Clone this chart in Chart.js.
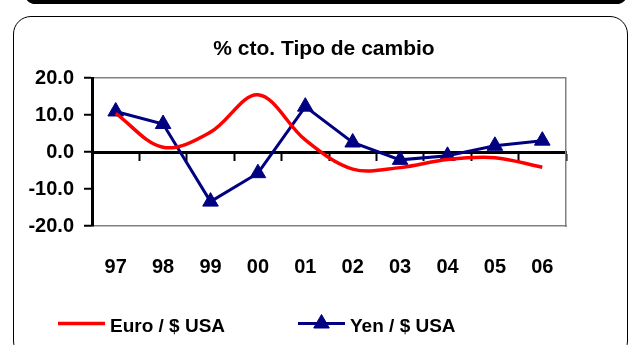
<!DOCTYPE html>
<html>
<head>
<meta charset="utf-8">
<script src="https://cdn.jsdelivr.net/npm/chart.js@4/dist/chart.umd.min.js"></script>
<style>
  html, body { margin: 0; padding: 0; background: #fff; }
  #wrap { position: relative; width: 632px; height: 345px; overflow: hidden; }
  /* borde del gráfico superior (solo se ve el final) */
  #topbar { position: absolute; left: 24px; top: -19px; width: 604px; height: 23px;
            background: #000; border-radius: 14px; }
  /* marco redondeado */
  #frame { position: absolute; left: 13px; top: 16px; width: 615px; height: 343px;
           box-sizing: border-box; border: 1.5px solid #000; border-radius: 18px; }
  #chart { position: absolute; left: 0; top: 0; }
</style>
</head>
<body>
<div id="wrap">
  <div id="topbar"></div>
  <div id="frame"></div>
  <canvas id="chart" width="632" height="345"></canvas>
</div>
<script>
// años (eje x)
let years = ['97', '98', '99', '00', '01', '02', '03', '04', '05', '06'];
// % cto. Euro / $ USA
let euro = [10.5, 1.3, 5.4, 15.5, 3.3, -4.6, -4.2, -2.0, -1.5, -4.1];
// % cto. Yen / $ USA
let yen = [11.0, 7.6, -13.4, -5.7, 12.3, 2.6, -2.1, -1.0, 1.7, 3.1];
// eje y
let y_min = -20;
let y_max = 20;
let y_step = 10;

let series_names = ['Euro / $ USA', 'Yen / $ USA'];
let title_text = '% cto. Tipo de cambio';

let font_family = '"Liberation Sans", Arial, sans-serif';
let gray = '#808080';

// leyenda dibujada abajo: línea + marcador como en Excel
const bottomLegend = {
    id: 'bottomLegend',
    afterDraw(chart) {
        let c = chart.ctx;
        let starts = [58, 298]; // inicio de cada muestra
        let ly = 323.5;
        c.save();
        c.font = 'bold 19px ' + font_family;
        c.textBaseline = 'alphabetic';
        chart.data.datasets.forEach(function (ds, i) {
            let x0 = starts[i];
            // línea de muestra
            c.strokeStyle = ds.borderColor;
            c.lineWidth = ds.borderWidth;
            c.beginPath();
            c.moveTo(x0, ly);
            c.lineTo(x0 + 47, ly);
            c.stroke();
            // marcador triangular
            if (ds.pointRadius > 0) {
                let r = ds.pointRadius;
                let cx = x0 + 23.5;
                c.fillStyle = ds.pointBackgroundColor;
                c.strokeStyle = ds.pointBorderColor;
                c.lineWidth = 1;
                c.beginPath();
                c.moveTo(cx, ly - r);
                c.lineTo(cx + r * Math.sin(2 * Math.PI / 3), ly + r / 2);
                c.lineTo(cx - r * Math.sin(2 * Math.PI / 3), ly + r / 2);
                c.closePath();
                c.fill();
                c.stroke();
            }
            c.fillStyle = '#000';
            c.fillText(ds.label, x0 + 52, 332);
        });
        c.restore();
    }
};

let config = {
    type: 'line',
    data: {
        labels: years,
        datasets: [{
            label: series_names[0],
            data: euro,
            borderColor: '#FF0000',
            borderWidth: 3.5,
            tension: 0.35,
            pointRadius: 0,
            pointHoverRadius: 0,
            fill: false
        }, {
            label: series_names[1],
            data: yen,
            borderColor: '#000080',
            borderWidth: 3,
            tension: 0,
            pointStyle: 'triangle',
            pointRadius: 9,
            pointHoverRadius: 9,
            pointBackgroundColor: '#000080',
            pointBorderColor: '#000080',
            pointBorderWidth: 1,
            fill: false
        }]
    },
    options: {
        responsive: false,
        animation: false,
        events: [],
        layout: {
            padding: { left: 16, right: 0, top: 0, bottom: 0 }
        },
        plugins: {
            legend: { display: false },
            tooltip: { enabled: false },
            title: {
                display: true,
                text: title_text,
                color: '#000',
                font: { family: font_family, size: 21, weight: 'bold' },
                padding: { top: 37, bottom: 16 }
            }
        },
        scales: {
            x: { // etiquetas de los años abajo
                type: 'category',
                offset: true,
                grid: { display: false },
                border: { display: true, color: gray, width: 1.5 },
                ticks: {
                    color: '#000',
                    font: { family: font_family, size: 20, weight: 'bold' },
                    padding: 21,
                    maxRotation: 0,
                    autoSkip: false
                },
                afterFit: function (scale) { scale.height = 119; }
            },
            x2: { // eje en cero con marcas entre categorías
                type: 'category',
                position: { y: 0 },
                offset: true,
                grid: {
                    display: true,
                    offset: true,
                    drawOnChartArea: false,
                    drawTicks: true,
                    tickLength: 7,
                    tickWidth: 2,
                    tickColor: '#000'
                },
                border: { display: true, color: '#000', width: 3 },
                ticks: { display: false }
            },
            y: {
                min: y_min,
                max: y_max,
                ticks: {
                    stepSize: y_step,
                    color: '#000',
                    padding: 10,
                    font: { family: font_family, size: 20, weight: 'bold' },
                    callback: function (value) { return value.toFixed(1); }
                },
                grid: {
                    drawOnChartArea: true,
                    color: function (c) {
                        return c.tick && c.tick.value === y_max ? gray : 'transparent';
                    },
                    lineWidth: 1.5,
                    tickLength: 8,
                    tickWidth: 2,
                    tickColor: '#000'
                },
                border: { display: true, color: '#000', width: 3 },
                afterFit: function (scale) { scale.width = 76; }
            },
            yr: { // borde derecho del área de trazado
                position: 'right',
                min: y_min,
                max: y_max,
                ticks: { display: false },
                grid: { display: false },
                border: { display: true, color: gray, width: 1.5 },
                afterFit: function (scale) { scale.width = 66; }
            }
        }
    },
    plugins: [bottomLegend]
};

let myChart = new Chart(document.getElementById('chart'), config);
</script>
</body>
</html>
